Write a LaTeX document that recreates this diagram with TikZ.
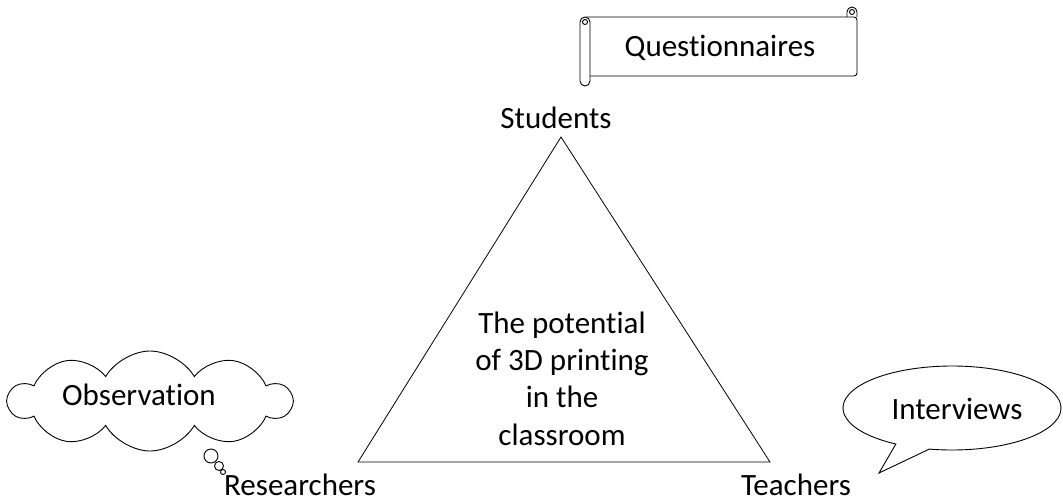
\documentclass[tikz,border=0pt]{standalone}
\usepackage{fontspec}
\setmainfont{Carlito}[Ligatures=NoCommon]
\usetikzlibrary{shapes.symbols}
\begin{document}
\begin{tikzpicture}[x=1pt,y=-1pt,line width=0.9pt,
  lbl/.style={inner sep=0pt,anchor=base,font=\fontsize{31}{37.3}\selectfont},
  thin/.style={line width=0.8pt}]
\useasboundingbox (0,0) rectangle (1063,501);
% triangle
\coordinate (S) at (561,137);
\coordinate (R) at (358,462);
\coordinate (T) at (770,462);
\draw[thin,line join=miter] (S) -- (R) -- (T) -- cycle;
\node[lbl] (stud) at (556,128) {Students};
\node[lbl] (res) at (300,495) {Researchers};
\node[lbl] (teach) at (796,495) {Teachers};
\node[lbl,align=center,anchor=base] (centre) at (562,445) {The potential\\of 3D printing\\in the\\classroom};
% scroll
\draw[rounded corners=3] (586,17) -- (857,17) -- (857,76) -- (590,76);
\draw (580,22) -- (580,81) arc[start angle=180,end angle=0,radius=5] -- (590,22) arc[start angle=0,end angle=-180,radius=5];
\draw (585,22) circle[radius=2.5];
\draw (847,17) -- (847,12) arc[start angle=180,end angle=360,radius=5] -- (857,17);
\draw (852,12) circle[radius=2.5];
\node[lbl] (quest) at (720,56) {Questionnaires};
% cloud
\node[cloud,draw,cloud puffs=10,cloud puff arc=120,aspect=2.6,minimum width=282pt,minimum height=100pt,inner sep=0pt] (cl) at (150,401) {};
\node[lbl] (obs) at (139,405) {Observation};
\draw (211,456) circle[radius=7];
\draw (219,466) circle[radius=4.5];
\draw (223,472) circle[radius=2.5];
% speech bubble
\coordinate (bc) at (952,408);
\coordinate (tip) at (879,473);
\draw (bc) ++(121:109 and 42) arc[start angle=121,end angle=462,x radius=109,y radius=42] -- (tip) -- cycle;
\node[lbl] (int) at (957,419) {Interviews};
\end{tikzpicture}
\end{document}
